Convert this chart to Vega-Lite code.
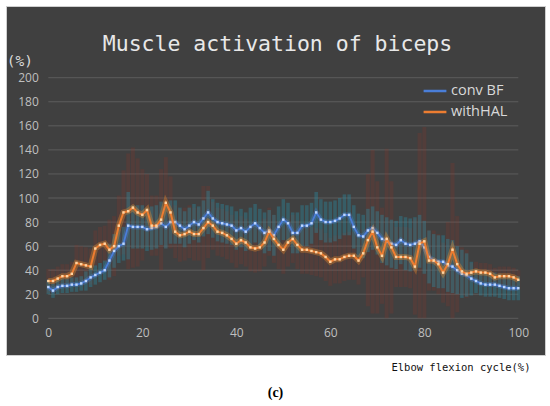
{
  "$schema": "https://vega.github.io/schema/vega-lite/v6.json",
  "description": "Muscle activation of biceps over the elbow flexion cycle, conv BF vs withHAL, mean with error bars.",
  "width": 539,
  "height": 349,
  "autosize": {"type": "none"},
  "padding": {"left": 6, "top": 6, "right": 5, "bottom": 51},
  "background": "white",
  "title": {
    "text": "Muscle activation of biceps",
    "anchor": "middle",
    "frame": "group",
    "offset": -49,
    "dx": 2,
    "font": "DejaVu Sans Mono",
    "fontSize": 21.5,
    "fontWeight": "normal",
    "color": "#e8e8e8"
  },
  "config": {
    "view": {"fill": "#404040", "stroke": "#cfcfcf"},
    "axis": {
      "grid": false,
      "ticks": false,
      "domain": false,
      "labelOverlap": false,
      "labelFlush": false,
      "labelColor": "#bfbfbf",
      "labelFont": "Open Sans",
      "labelFontSize": 12
    },
    "axisQuantitative": {"labelOverlap": false},
    "axisLeft": {"labelOverlap": false},
    "axisY": {"labelOverlap": false}
  },
  "datasets": {
    "gridx": [{"x": 20}, {"x": 40}, {"x": 60}, {"x": 80}, {"x": 100}],
    "gridy": [
      {"gy": 0}, {"gy": 20}, {"gy": 40}, {"gy": 60}, {"gy": 80}, {"gy": 100},
      {"gy": 120}, {"gy": 140}, {"gy": 160}, {"gy": 180}, {"gy": 200}
    ],
    "emg": [
      {"x": 0, "b": 26, "bl": 20, "bh": 32, "o": 31, "ol": 21, "oh": 41},
      {"x": 1, "b": 23, "bl": 17, "bh": 29, "o": 31, "ol": 21, "oh": 41},
      {"x": 2, "b": 26, "bl": 20, "bh": 32, "o": 33, "ol": 23, "oh": 43},
      {"x": 3, "b": 27, "bl": 21, "bh": 33, "o": 35, "ol": 25, "oh": 45},
      {"x": 4, "b": 27, "bl": 21, "bh": 33, "o": 35, "ol": 25, "oh": 45},
      {"x": 5, "b": 28, "bl": 22, "bh": 34, "o": 37, "ol": 27, "oh": 47},
      {"x": 6, "b": 28, "bl": 22, "bh": 34, "o": 46, "ol": 31, "oh": 61},
      {"x": 7, "b": 29, "bl": 23, "bh": 35, "o": 45, "ol": 30, "oh": 60},
      {"x": 8, "b": 31, "bl": 23, "bh": 39, "o": 44, "ol": 29, "oh": 59},
      {"x": 9, "b": 34, "bl": 26, "bh": 42, "o": 43, "ol": 28, "oh": 58},
      {"x": 10, "b": 36, "bl": 28, "bh": 44, "o": 58, "ol": 43, "oh": 73},
      {"x": 11, "b": 38, "bl": 30, "bh": 46, "o": 61, "ol": 46, "oh": 76},
      {"x": 12, "b": 40, "bl": 32, "bh": 48, "o": 62, "ol": 47, "oh": 77},
      {"x": 13, "b": 48, "bl": 34, "bh": 62, "o": 57, "ol": 32, "oh": 82},
      {"x": 14, "b": 56, "bl": 42, "bh": 70, "o": 60, "ol": 35, "oh": 85},
      {"x": 15, "b": 60, "bl": 46, "bh": 74, "o": 77, "ol": 52, "oh": 102},
      {"x": 16, "b": 62, "bl": 48, "bh": 76, "o": 88, "ol": 53, "oh": 123},
      {"x": 17, "b": 77, "bl": 49, "bh": 105, "o": 89, "ol": 41, "oh": 137},
      {"x": 18, "b": 76, "bl": 58, "bh": 94, "o": 92, "ol": 42, "oh": 142},
      {"x": 19, "b": 76, "bl": 58, "bh": 94, "o": 88, "ol": 43, "oh": 133},
      {"x": 20, "b": 76, "bl": 58, "bh": 94, "o": 86, "ol": 48, "oh": 124},
      {"x": 21, "b": 74, "bl": 56, "bh": 92, "o": 90, "ol": 60, "oh": 120},
      {"x": 22, "b": 75, "bl": 57, "bh": 93, "o": 77, "ol": 52, "oh": 102},
      {"x": 23, "b": 76, "bl": 58, "bh": 94, "o": 77, "ol": 52, "oh": 102},
      {"x": 24, "b": 79, "bl": 61, "bh": 97, "o": 82, "ol": 40, "oh": 124},
      {"x": 25, "b": 76, "bl": 58, "bh": 94, "o": 96, "ol": 58, "oh": 134},
      {"x": 26, "b": 80, "bl": 62, "bh": 98, "o": 88, "ol": 58, "oh": 118},
      {"x": 27, "b": 80, "bl": 62, "bh": 98, "o": 72, "ol": 50, "oh": 94},
      {"x": 28, "b": 77, "bl": 62, "bh": 92, "o": 69, "ol": 47, "oh": 91},
      {"x": 29, "b": 74, "bl": 59, "bh": 89, "o": 70, "ol": 48, "oh": 92},
      {"x": 30, "b": 77, "bl": 62, "bh": 92, "o": 72, "ol": 50, "oh": 94},
      {"x": 31, "b": 80, "bl": 65, "bh": 95, "o": 70, "ol": 48, "oh": 92},
      {"x": 32, "b": 78, "bl": 63, "bh": 93, "o": 70, "ol": 48, "oh": 92},
      {"x": 33, "b": 83, "bl": 68, "bh": 98, "o": 75, "ol": 40, "oh": 110},
      {"x": 34, "b": 88, "bl": 70, "bh": 106, "o": 80, "ol": 50, "oh": 110},
      {"x": 35, "b": 83, "bl": 67, "bh": 99, "o": 77, "ol": 57, "oh": 97},
      {"x": 36, "b": 80, "bl": 64, "bh": 96, "o": 72, "ol": 52, "oh": 92},
      {"x": 37, "b": 79, "bl": 63, "bh": 95, "o": 71, "ol": 51, "oh": 91},
      {"x": 38, "b": 78, "bl": 62, "bh": 94, "o": 69, "ol": 49, "oh": 89},
      {"x": 39, "b": 77, "bl": 61, "bh": 93, "o": 66, "ol": 46, "oh": 86},
      {"x": 40, "b": 73, "bl": 57, "bh": 89, "o": 62, "ol": 42, "oh": 82},
      {"x": 41, "b": 75, "bl": 59, "bh": 91, "o": 65, "ol": 45, "oh": 85},
      {"x": 42, "b": 72, "bl": 56, "bh": 88, "o": 63, "ol": 43, "oh": 83},
      {"x": 43, "b": 76, "bl": 60, "bh": 92, "o": 59, "ol": 39, "oh": 79},
      {"x": 44, "b": 79, "bl": 63, "bh": 95, "o": 58, "ol": 38, "oh": 78},
      {"x": 45, "b": 75, "bl": 59, "bh": 91, "o": 59, "ol": 39, "oh": 79},
      {"x": 46, "b": 71, "bl": 54, "bh": 88, "o": 63, "ol": 43, "oh": 83},
      {"x": 47, "b": 73, "bl": 56, "bh": 90, "o": 72, "ol": 52, "oh": 92},
      {"x": 48, "b": 69, "bl": 52, "bh": 86, "o": 66, "ol": 46, "oh": 86},
      {"x": 49, "b": 76, "bl": 59, "bh": 93, "o": 61, "ol": 41, "oh": 81},
      {"x": 50, "b": 82, "bl": 65, "bh": 99, "o": 57, "ol": 37, "oh": 77},
      {"x": 51, "b": 79, "bl": 62, "bh": 96, "o": 63, "ol": 43, "oh": 83},
      {"x": 52, "b": 71, "bl": 54, "bh": 88, "o": 66, "ol": 46, "oh": 86},
      {"x": 53, "b": 71, "bl": 54, "bh": 88, "o": 61, "ol": 41, "oh": 81},
      {"x": 54, "b": 77, "bl": 60, "bh": 94, "o": 57, "ol": 37, "oh": 77},
      {"x": 55, "b": 77, "bl": 60, "bh": 94, "o": 57, "ol": 37, "oh": 77},
      {"x": 56, "b": 79, "bl": 62, "bh": 96, "o": 56, "ol": 36, "oh": 76},
      {"x": 57, "b": 88, "bl": 71, "bh": 105, "o": 55, "ol": 35, "oh": 75},
      {"x": 58, "b": 82, "bl": 65, "bh": 99, "o": 54, "ol": 34, "oh": 74},
      {"x": 59, "b": 80, "bl": 63, "bh": 97, "o": 51, "ol": 31, "oh": 71},
      {"x": 60, "b": 80, "bl": 63, "bh": 97, "o": 47, "ol": 27, "oh": 67},
      {"x": 61, "b": 81, "bl": 64, "bh": 98, "o": 49, "ol": 29, "oh": 69},
      {"x": 62, "b": 83, "bl": 66, "bh": 100, "o": 49, "ol": 29, "oh": 69},
      {"x": 63, "b": 86, "bl": 69, "bh": 103, "o": 51, "ol": 31, "oh": 71},
      {"x": 64, "b": 86, "bl": 69, "bh": 103, "o": 52, "ol": 32, "oh": 72},
      {"x": 65, "b": 76, "bl": 58, "bh": 94, "o": 52, "ol": 32, "oh": 72},
      {"x": 66, "b": 69, "bl": 51, "bh": 87, "o": 48, "ol": 28, "oh": 68},
      {"x": 67, "b": 68, "bl": 50, "bh": 86, "o": 54, "ol": 34, "oh": 74},
      {"x": 68, "b": 73, "bl": 55, "bh": 91, "o": 65, "ol": 10, "oh": 120},
      {"x": 69, "b": 75, "bl": 57, "bh": 93, "o": 72, "ol": 4, "oh": 140},
      {"x": 70, "b": 71, "bl": 53, "bh": 89, "o": 59, "ol": 4, "oh": 114},
      {"x": 71, "b": 66, "bl": 46, "bh": 86, "o": 52, "ol": 12, "oh": 92},
      {"x": 72, "b": 64, "bl": 44, "bh": 84, "o": 66, "ol": 0, "oh": 141},
      {"x": 73, "b": 62, "bl": 42, "bh": 82, "o": 59, "ol": 4, "oh": 114},
      {"x": 74, "b": 61, "bl": 41, "bh": 81, "o": 51, "ol": 26, "oh": 76},
      {"x": 75, "b": 65, "bl": 45, "bh": 85, "o": 51, "ol": 26, "oh": 76},
      {"x": 76, "b": 62, "bl": 40, "bh": 84, "o": 51, "ol": 26, "oh": 76},
      {"x": 77, "b": 61, "bl": 39, "bh": 83, "o": 50, "ol": 25, "oh": 75},
      {"x": 78, "b": 62, "bl": 40, "bh": 84, "o": 43, "ol": 3, "oh": 83},
      {"x": 79, "b": 64, "bl": 42, "bh": 86, "o": 62, "ol": 0, "oh": 154},
      {"x": 80, "b": 59, "bl": 37, "bh": 81, "o": 64, "ol": 0, "oh": 159},
      {"x": 81, "b": 51, "bl": 29, "bh": 73, "o": 48, "ol": 23, "oh": 73},
      {"x": 82, "b": 48, "bl": 26, "bh": 70, "o": 48, "ol": 23, "oh": 73},
      {"x": 83, "b": 47, "bl": 25, "bh": 69, "o": 45, "ol": 20, "oh": 70},
      {"x": 84, "b": 47, "bl": 25, "bh": 69, "o": 38, "ol": 13, "oh": 63},
      {"x": 85, "b": 44, "bl": 22, "bh": 66, "o": 45, "ol": 10, "oh": 80},
      {"x": 86, "b": 43, "bl": 21, "bh": 65, "o": 57, "ol": 0, "oh": 129},
      {"x": 87, "b": 40, "bl": 20, "bh": 60, "o": 45, "ol": 5, "oh": 85},
      {"x": 88, "b": 37, "bl": 17, "bh": 57, "o": 39, "ol": 19, "oh": 59},
      {"x": 89, "b": 36, "bl": 18, "bh": 54, "o": 37, "ol": 17, "oh": 57},
      {"x": 90, "b": 33, "bl": 19, "bh": 47, "o": 38, "ol": 30, "oh": 46},
      {"x": 91, "b": 31, "bl": 21, "bh": 41, "o": 39, "ol": 31, "oh": 47},
      {"x": 92, "b": 29, "bl": 19, "bh": 39, "o": 38, "ol": 30, "oh": 46},
      {"x": 93, "b": 28, "bl": 18, "bh": 38, "o": 38, "ol": 30, "oh": 46},
      {"x": 94, "b": 28, "bl": 18, "bh": 38, "o": 37, "ol": 29, "oh": 45},
      {"x": 95, "b": 28, "bl": 18, "bh": 38, "o": 34, "ol": 26, "oh": 42},
      {"x": 96, "b": 27, "bl": 17, "bh": 37, "o": 35, "ol": 27, "oh": 43},
      {"x": 97, "b": 26, "bl": 16, "bh": 36, "o": 35, "ol": 27, "oh": 43},
      {"x": 98, "b": 25, "bl": 15, "bh": 35, "o": 35, "ol": 27, "oh": 43},
      {"x": 99, "b": 25, "bl": 15, "bh": 35, "o": 34, "ol": 26, "oh": 42},
      {"x": 100, "b": 25, "bl": 15, "bh": 35, "o": 32, "ol": 24, "oh": 40}
    ]
  },
  "layer": [
    {
      "data": {"name": "gridy"},
      "mark": {"type": "rule", "color": "#5c5c5c", "strokeWidth": 1},
      "encoding": {
        "y": {
          "field": "gy",
          "type": "quantitative",
          "title": "(c)",
          "axis": {
            "orient": "right",
            "labels": false,
            "titleAngle": 0,
            "titleAlign": "center",
            "titleBaseline": "middle",
            "titleX": -270,
            "titleY": 386,
            "titleFont": "Liberation Serif",
            "titleFontSize": 14,
            "titleFontWeight": "bold",
            "titleColor": "#000000"
          }
        },
        "x": {"datum": 0, "title": "Elbow flexion cycle(%)"},
        "x2": {"datum": 100}
      }
    },
    {
      "encoding": {
        "x": {
          "field": "x",
          "type": "quantitative",
          "title": "Elbow flexion cycle(%)",
          "scale": {"domain": [-9, 105.68], "nice": false, "zero": false},
          "axis": {
            "orient": "bottom",
            "offset": -36.7,
            "values": [0, 20, 40, 60, 80, 100],
            "labelPadding": 9,
            "titleX": 524,
            "titleY": 49,
            "titleAlign": "right",
            "titleBaseline": "middle",
            "titleFont": "DejaVu Sans Mono",
            "titleFontSize": 10.5,
            "titleFontWeight": "normal",
            "titleColor": "#111111"
          }
        },
        "y": {
          "field": "ol",
          "type": "quantitative",
          "title": "(%)",
          "scale": {"domain": [-30.5, 259.6], "nice": false, "zero": false},
          "axis": {
            "orient": "left",
            "offset": -42.3,
            "values": [0, 20, 40, 60, 80, 100, 120, 140, 160, 180, 200],
            "labelOverlap": false,
            "labelPadding": 10,
            "titleAngle": 0,
            "titleAlign": "left",
            "titleBaseline": "middle",
            "titleX": -42,
            "titleY": 55,
            "titleFont": "DejaVu Sans Mono",
            "titleFontSize": 14.5,
            "titleFontWeight": "normal",
            "titleColor": "#d9d9d9"
          }
        }
      },
      "layer": [
        {
          "data": {"name": "gridx"},
          "mark": {"type": "rule", "color": "#5c5c5c", "strokeWidth": 1},
          "encoding": {
            "y": {"datum": 0},
            "y2": {"datum": 200}
          }
        },
        {
          "data": {"values": [{"x": 0}]},
          "mark": {"type": "rule", "color": "#8c8c8c", "strokeWidth": 1.2},
          "encoding": {
            "y": {"datum": 0},
            "y2": {"datum": 200}
          }
        },
        {
          "data": {"name": "emg"},
          "mark": {"type": "rule", "color": "#a03020", "opacity": 0.19, "strokeWidth": 4},
          "encoding": {
            "y2": {"field": "oh"}
          }
        },
        {
          "data": {"name": "emg"},
          "mark": {"type": "rule", "color": "#2a8aa0", "opacity": 0.4, "strokeWidth": 3.5},
          "encoding": {
            "y": {"field": "bl", "type": "quantitative"},
            "y2": {"field": "bh"}
          }
        },
        {
          "data": {"name": "emg"},
          "mark": {"type": "line", "color": "#4a86e8", "opacity": 0.3, "strokeWidth": 5},
          "encoding": {
            "y": {"field": "b", "type": "quantitative"}
          }
        },
        {
          "data": {"name": "emg"},
          "mark": {"type": "line", "strokeWidth": 1.8},
          "encoding": {
            "y": {"field": "b", "type": "quantitative"},
            "color": {
              "datum": "conv BF",
              "scale": {"domain": ["conv BF", "withHAL"], "range": ["#4a7ed8", "#ed7d31"]},
              "legend": {
                "title": null,
                "orient": "none",
                "legendX": 416,
                "legendY": 72,
                "symbolType": "stroke",
                "symbolSize": 520,
                "symbolStrokeWidth": 2.5,
                "labelFont": "Open Sans",
                "labelFontSize": 14.5,
                "labelColor": "#d9d9d9",
                "labelOffset": 3,
                "rowPadding": 1
              }
            }
          }
        },
        {
          "data": {"name": "emg"},
          "mark": {"type": "square", "filled": true, "color": "#bcd6ff", "opacity": 1, "size": 6},
          "encoding": {
            "y": {"field": "b", "type": "quantitative"}
          }
        },
        {
          "data": {"name": "emg"},
          "mark": {"type": "line", "color": "#f28e2b", "opacity": 0.35, "strokeWidth": 6},
          "encoding": {
            "y": {"field": "o", "type": "quantitative"}
          }
        },
        {
          "data": {"name": "emg"},
          "mark": {"type": "line", "strokeWidth": 2},
          "encoding": {
            "y": {"field": "o", "type": "quantitative"},
            "color": {"datum": "withHAL"}
          }
        },
        {
          "data": {"name": "emg"},
          "mark": {"type": "square", "filled": true, "color": "#ffd3a0", "opacity": 1, "size": 6},
          "encoding": {
            "y": {"field": "o", "type": "quantitative"}
          }
        }
      ]
    }
  ],
  "resolve": {"axis": {"y": "independent"}}
}
